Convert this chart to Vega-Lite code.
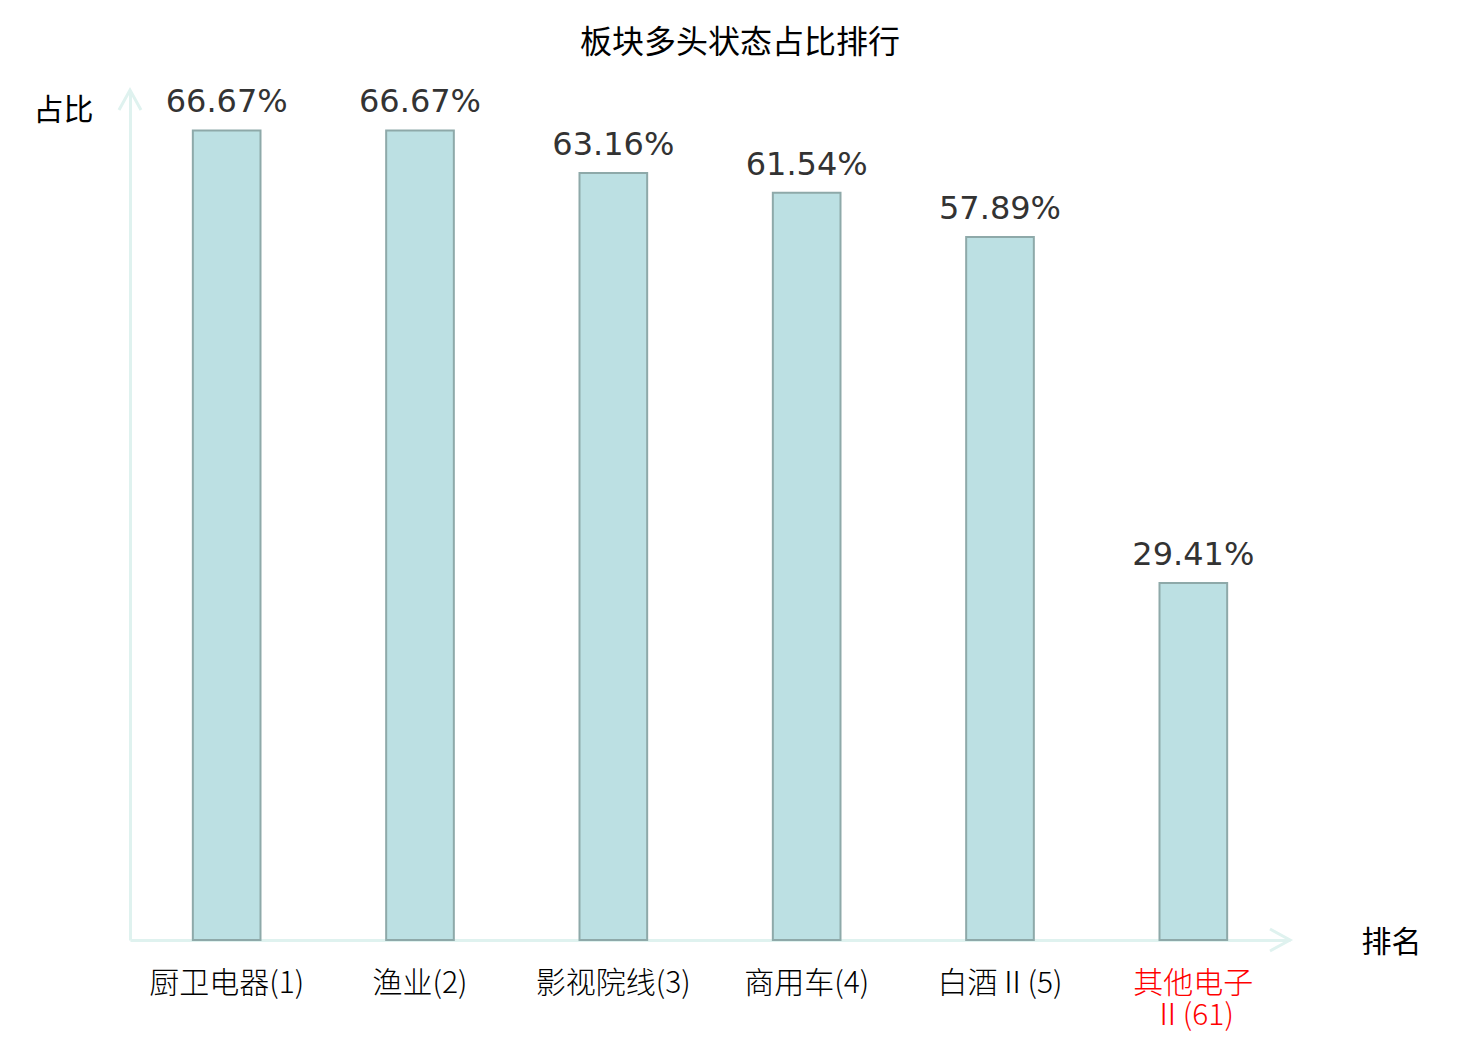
{
  "$schema": "https://vega.github.io/schema/vega-lite/v6.json",
  "autosize": {"type": "none"},
  "width": 1160,
  "height": 850,
  "padding": {"left": 130, "top": 90, "right": 190, "bottom": 100},
  "background": "white",
  "title": {
    "text": "板块多头状态占比排行",
    "font": "Noto Sans CJK SC",
    "fontSize": 32,
    "fontWeight": "normal",
    "color": "#000000",
    "anchor": "middle",
    "dx": 30,
    "baseline": "middle",
    "offset": 9
  },
  "config": {
    "view": {"stroke": null},
    "axis": {"grid": false, "ticks": false, "tickSize": 0, "domainColor": "#dff2ef", "domainWidth": 3}
  },
  "datasets": {
    "bars": [
      {"sector": "厨卫电器(1)", "pct": 66.67, "label": "66.67%"},
      {"sector": "渔业(2)", "pct": 66.67, "label": "66.67%"},
      {"sector": "影视院线(3)", "pct": 63.16, "label": "63.16%"},
      {"sector": "商用车(4)", "pct": 61.54, "label": "61.54%"},
      {"sector": "白酒Ⅱ(5)", "pct": 57.89, "label": "57.89%"},
      {"sector": "其他电子Ⅱ(61)", "pct": 29.41, "label": "29.41%"}
    ],
    "arrows": [
      {"ax": 0, "ay": 70, "dir": "up"},
      {"ax": 1, "ay": 0, "dir": "right"}
    ]
  },
  "layer": [
    {
      "data": {"name": "bars"},
      "encoding": {
        "x": {
          "field": "sector",
          "type": "nominal",
          "sort": null,
          "scale": {"paddingInner": 0.65, "paddingOuter": 0.325},
          "axis": {
            "title": "排名",
            "titleFont": "Noto Sans CJK SC",
            "titleFontSize": 30,
            "titleFontWeight": "normal",
            "titleColor": "#000000",
            "titleAngle": 0,
            "titleAlign": "center",
            "titleBaseline": "middle",
            "titleX": 1261,
            "titleY": 2,
            "labelAngle": 0,
            "labelFont": "Noto Sans CJK SC",
            "labelFontSize": 30,
            "labelFontWeight": 300,
            "labelPadding": 28,
            "labelBaseline": "top",
            "labelLineHeight": 32,
            "labelColor": {"expr": "datum.value == '其他电子Ⅱ(61)' ? '#ff0000' : '#000000'"},
            "labelExpr": "datum.value == '其他电子Ⅱ(61)' ? ['其他电子', 'Ⅱ(61)'] : datum.value"
          }
        },
        "y": {
          "field": "pct",
          "type": "quantitative",
          "scale": {"domain": [0, 70], "nice": false},
          "axis": {
            "labels": false,
            "title": "占比",
            "titleFont": "Noto Sans CJK SC",
            "titleFontSize": 30,
            "titleFontWeight": "normal",
            "titleColor": "#000000",
            "titleAngle": 0,
            "titleAlign": "center",
            "titleBaseline": "middle",
            "titleX": -67,
            "titleY": 20
          }
        }
      },
      "layer": [
        {"mark": {"type": "bar", "fill": "#bce0e3", "stroke": "#8ea9a9", "strokeWidth": 2}},
        {
          "mark": {"type": "text", "font": "DejaVu Sans", "fontSize": 32, "color": "#333333", "baseline": "bottom", "dy": -11},
          "encoding": {"text": {"field": "label"}}
        }
      ]
    },
    {
      "data": {"name": "arrows"},
      "mark": {"type": "point", "filled": false, "strokeWidth": 3, "color": "#dff2ef", "opacity": 1, "size": 400},
      "encoding": {
        "x": {"field": "ax", "type": "quantitative", "scale": {"domain": [0, 1], "nice": false}, "axis": null},
        "y": {"field": "ay", "type": "quantitative"},
        "shape": {
          "field": "dir",
          "type": "nominal",
          "scale": {"domain": ["up", "right"], "range": ["M-1.1,2L0,0L1.1,2", "M-2,-1.1L0,0L-2,1.1"]},
          "legend": null
        }
      }
    }
  ],
  "resolve": {"scale": {"x": "independent"}, "axis": {"x": "independent"}}
}
